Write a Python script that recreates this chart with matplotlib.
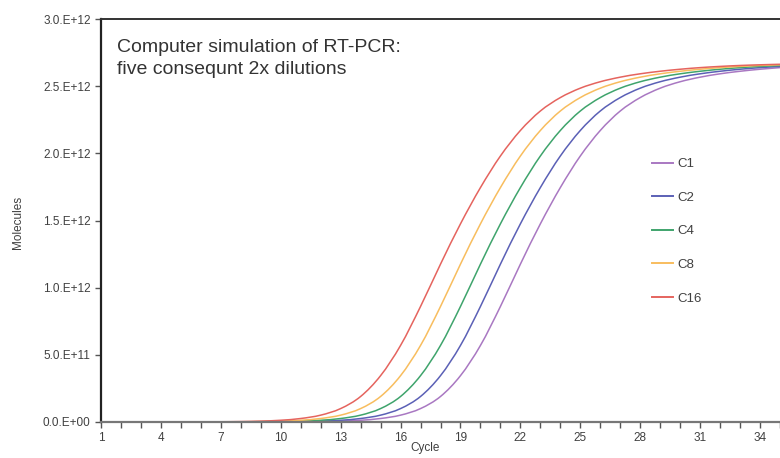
import matplotlib
matplotlib.use("Agg")
import matplotlib.pyplot as plt
from matplotlib.path import Path
from matplotlib.patches import PathPatch
from matplotlib.lines import Line2D

plt.rcParams['font.family'] = ['Liberation Sans', 'DejaVu Sans']

# cycles and simulated molecule counts (in units of 1E+12)
cycles = list(range(1, 36))

c16 = [0.000025, 0.00005, 0.0001, 0.0002, 0.0004, 0.0008, 0.00165, 0.0033, 0.0066, 0.013,
       0.026, 0.051, 0.100, 0.190, 0.345, 0.570, 0.860, 1.175, 1.475, 1.745,
       1.980, 2.170, 2.315, 2.415, 2.485, 2.533, 2.567, 2.592, 2.611, 2.626,
       2.638, 2.647, 2.654, 2.659, 2.663]
c8 = [0.0000125, 0.000025, 0.00005, 0.0001, 0.0002, 0.0004, 0.0008, 0.00165, 0.0033, 0.0066,
      0.013, 0.026, 0.051, 0.100, 0.190, 0.345, 0.570, 0.860, 1.175, 1.475,
      1.745, 1.980, 2.170, 2.315, 2.415, 2.485, 2.533, 2.567, 2.592, 2.611,
      2.626, 2.638, 2.647, 2.654, 2.659]
c4 = [0.000006, 0.0000125, 0.000025, 0.00005, 0.0001, 0.0002, 0.0004, 0.0008, 0.00165, 0.0033,
      0.0066, 0.013, 0.026, 0.051, 0.100, 0.190, 0.345, 0.570, 0.860, 1.175,
      1.475, 1.745, 1.980, 2.170, 2.315, 2.415, 2.485, 2.533, 2.567, 2.592,
      2.611, 2.626, 2.638, 2.647, 2.654]
c2 = [0.000003, 0.000006, 0.0000125, 0.000025, 0.00005, 0.0001, 0.0002, 0.0004, 0.0008, 0.00165,
      0.0033, 0.0066, 0.013, 0.026, 0.051, 0.100, 0.190, 0.345, 0.570, 0.860,
      1.175, 1.475, 1.745, 1.980, 2.170, 2.315, 2.415, 2.485, 2.533, 2.567,
      2.592, 2.611, 2.626, 2.638, 2.647]
c1 = [0.0000015, 0.000003, 0.000006, 0.0000125, 0.000025, 0.00005, 0.0001, 0.0002, 0.0004, 0.0008,
      0.00165, 0.0033, 0.0066, 0.013, 0.026, 0.051, 0.100, 0.190, 0.345, 0.570,
      0.860, 1.175, 1.475, 1.745, 1.980, 2.170, 2.315, 2.415, 2.485, 2.533,
      2.567, 2.592, 2.611, 2.626, 2.638]

series = [("C1", c1, "#a978c2"), ("C2", c2, "#5b60b6"), ("C4", c4, "#3fa46c"),
          ("C8", c8, "#f8bd5e"), ("C16", c16, "#e5645e")]

y_ticks = [0.0, 0.5, 1.0, 1.5, 2.0, 2.5, 3.0]
y_labels = ["0.0.E+00", "5.0.E+11", "1.0.E+12", "1.5.E+12", "2.0.E+12", "2.5.E+12", "3.0.E+12"]


def smooth_path(xs, ys):
    # Excel-style smoothed line: cubic bezier segments through the data points
    pts = list(zip(xs, ys))
    n = len(pts)
    verts = [pts[0]]
    codes = [Path.MOVETO]
    for i in range(n - 1):
        p0 = pts[max(i - 1, 0)]
        p1 = pts[i]
        p2 = pts[i + 1]
        p3 = pts[min(i + 2, n - 1)]
        c1 = (p1[0] + (p2[0] - p0[0]) / 6, p1[1] + (p2[1] - p0[1]) / 6)
        c2 = (p2[0] - (p3[0] - p1[0]) / 6, p2[1] - (p3[1] - p1[1]) / 6)
        verts += [c1, c2, p2]
        codes += [Path.CURVE4] * 3
    return Path(verts, codes)


fig = plt.figure(figsize=(7.8, 4.58), dpi=100)
ax = fig.add_axes([101 / 780, 36 / 458, 1 - 101 / 780, (422 - 19) / 458])

handles = []
for name, vals, col in series:
    p = smooth_path(cycles, [v * 1e12 for v in vals])
    ax.add_patch(PathPatch(p, fill=False, edgecolor=col, lw=1.1))
    handles.append(Line2D([], [], color=col, lw=1.4, label=name))

ax.set_xlim(1, 34.84)
ax.set_ylim(0, 3e12)

ax.set_xticks(cycles)
ax.set_xticklabels([str(c) if (c - 1) % 3 == 0 else "" for c in cycles])
ax.set_yticks([t * 1e12 for t in y_ticks])
ax.set_yticklabels(y_labels)
ax.tick_params(axis='both', direction='out', length=4, width=1, colors='#555555',
               labelcolor='#404040', labelsize=8.5)

ax.spines['right'].set_visible(False)
ax.spines['left'].set_color('#222222')
ax.spines['left'].set_linewidth(1.6)
ax.spines['top'].set_color('#333333')
ax.spines['top'].set_linewidth(1.4)
ax.spines['bottom'].set_color('#777777')
ax.spines['bottom'].set_linewidth(1.6)

fig.text(425 / 780, 1 - 448 / 458, "Cycle", ha='center', va='center', fontsize=8.5, color='#404040')
fig.text(18 / 780, 1 - 222 / 458, "Molecules", ha='center', va='center', rotation=90,
         fontsize=8.5, color='#404040')

ax.text(117 / 780, 1 - 39 / 458, "Computer simulation of RT-PCR:\nfive consequnt 2x dilutions",
        transform=fig.transFigure, ha='left', va='top', fontsize=14, color='#333333',
        linespacing=1.4)

leg = ax.legend(handles=handles, loc='upper left', bbox_to_anchor=(652 / 780, 1 - 158 / 458),
                bbox_transform=fig.transFigure, frameon=False, fontsize=9.5,
                handlelength=1.6, handletextpad=0.3, labelspacing=1.62,
                borderpad=0, borderaxespad=0)
for t in leg.get_texts():
    t.set_color('#404040')

fig.savefig("out.png", dpi=100)
